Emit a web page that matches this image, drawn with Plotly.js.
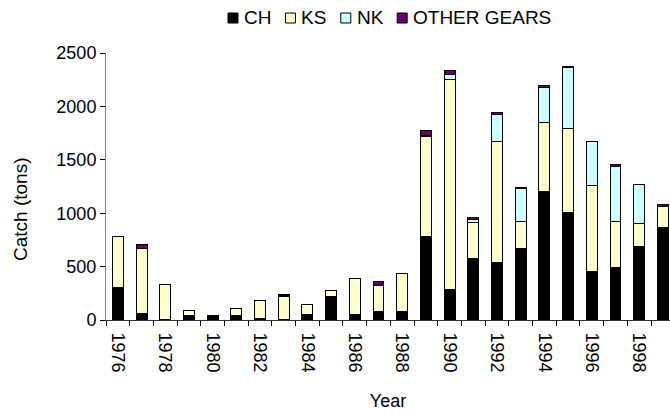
<!DOCTYPE html>
<html>
<head>
<meta charset="utf-8">
<script src="https://cdn.plot.ly/plotly-3.0.1.min.js"></script>
<style>html,body{margin:0;padding:0;background:#fff;}#chart{width:670px;height:414px;}</style>
</head>
<body>
<div id="chart"></div>
<script>
var years = ['1976','1977','1978','1979','1980','1981','1982','1983','1984','1985','1986','1987','1988','1989','1990','1991','1992','1993','1994','1995','1996','1997','1998','1999'];
var tickLabels = ['1976','','1978','','1980','','1982','','1984','','1986','','1988','','1990','','1992','','1994','','1996','','1998',''];
var seriesNames = ['CH','KS','NK','OTHER GEARS'];
var seriesColors = ['#000000','#FFFFCC','#CCFFFF','#660066'];
var CH    = [300, 60,   5, 40, 40, 40, 15,   5, 55, 220,  55,  75,  75, 780,  290, 580,  540, 670, 1200, 1010, 450, 490, 690, 870];
var KS    = [480,610, 325, 50,  0, 70,165, 215, 90,  55, 330, 250, 360, 940, 1960, 330, 1130, 250,  650,  780, 810, 430, 210, 195];
var NK    = [  0,  0,   0,  0,  0,  0,  0,  10,  0,   0,   0,   0,   0,  10,   50,  35,  250, 310,  330,  570, 410, 520, 365,   0];
var OTHER = [  0, 35,   0,  0,  0,  0,  0,   5,  0,   0,   0,  40,   0,  40,   40,  15,   20,  15,   20,   15,   0,  20,   5,  20];
var seriesValues = [CH, KS, NK, OTHER];
var yTitle = 'Catch (tons)';
var xTitle = 'Year';

var FONT = 'Liberation Sans, Arial, sans-serif';
var W = 670, H = 414, ML = 106, MR = 0, MT = 53, MB = 94;
var PW = W - ML - MR, PH = H - MT - MB;

var data = seriesNames.map(function(n, i) {
  return {type:'bar', name:n, x:years, y:seriesValues[i], showlegend:false,
    marker:{color:seriesColors[i], line:{color:'#000', width:1}}};
});

function toPX(p){ return (p - ML) / PW; }
function toPY(p){ return (H - MB - p) / PH; }

// custom compact legend (Excel style)
var cv = document.createElement('canvas').getContext('2d');
var LFS = 19;
cv.font = LFS + 'px "Liberation Sans"';
var sq = 10, gapIn = 4, gapOut = 16;
var widths = seriesNames.map(function(n){ return cv.measureText(n).width; });
var legY = 18;
var shapes = [], annotations = [];
var px = 228;
seriesNames.forEach(function(n, i) {
  shapes.push({type:'rect', xref:'paper', yref:'paper',
    x0:toPX(px), x1:toPX(px + sq), y0:toPY(legY + sq/2), y1:toPY(legY - sq/2),
    fillcolor:seriesColors[i], line:{color:'#000', width:1}});
  annotations.push({xref:'paper', yref:'paper', x:toPX(px + sq + gapIn), y:toPY(legY),
    xanchor:'left', yanchor:'middle', showarrow:false, text:n,
    font:{family:FONT, size:LFS, color:'#000'}});
  px += sq + gapIn + widths[i] + gapOut;
});
// y-axis title (placed as in the reference, slightly below the plot centre)
annotations.push({xref:'paper', yref:'paper', x:toPX(20), y:toPY(210),
  xanchor:'center', yanchor:'middle', textangle:-90, showarrow:false, text:yTitle,
  font:{family:FONT, size:19, color:'#000'}});

var layout = {
  width:W, height:H,
  margin:{l:ML, r:MR, t:MT, b:MB, pad:0},
  barmode:'stack', bargap:0.54,
  paper_bgcolor:'#fff', plot_bgcolor:'#fff',
  font:{family:FONT, size:18, color:'#000'},
  showlegend:false,
  shapes:shapes, annotations:annotations,
  xaxis:{type:'category', tickmode:'array', tickvals:years, ticktext:tickLabels,
    range:[-0.5, 23.3],
    tickangle:90, ticks:'outside', ticklen:5, tickson:'boundaries', tickcolor:'#000',
    ticklabelstandoff:8,
    showline:true, linecolor:'#333', linewidth:1, showgrid:false, zeroline:false,
    title:{text:xTitle, font:{size:18}, standoff:22}, tickfont:{size:18}},
  yaxis:{range:[0,2500], dtick:500, ticks:'outside', ticklen:5, tickcolor:'#000',
    showline:true, linecolor:'#808080', linewidth:1, showgrid:false, zeroline:false,
    tickfont:{size:18}}
};
Plotly.newPlot('chart', data, layout, {staticPlot:true, displayModeBar:false});
</script>
</body>
</html>
